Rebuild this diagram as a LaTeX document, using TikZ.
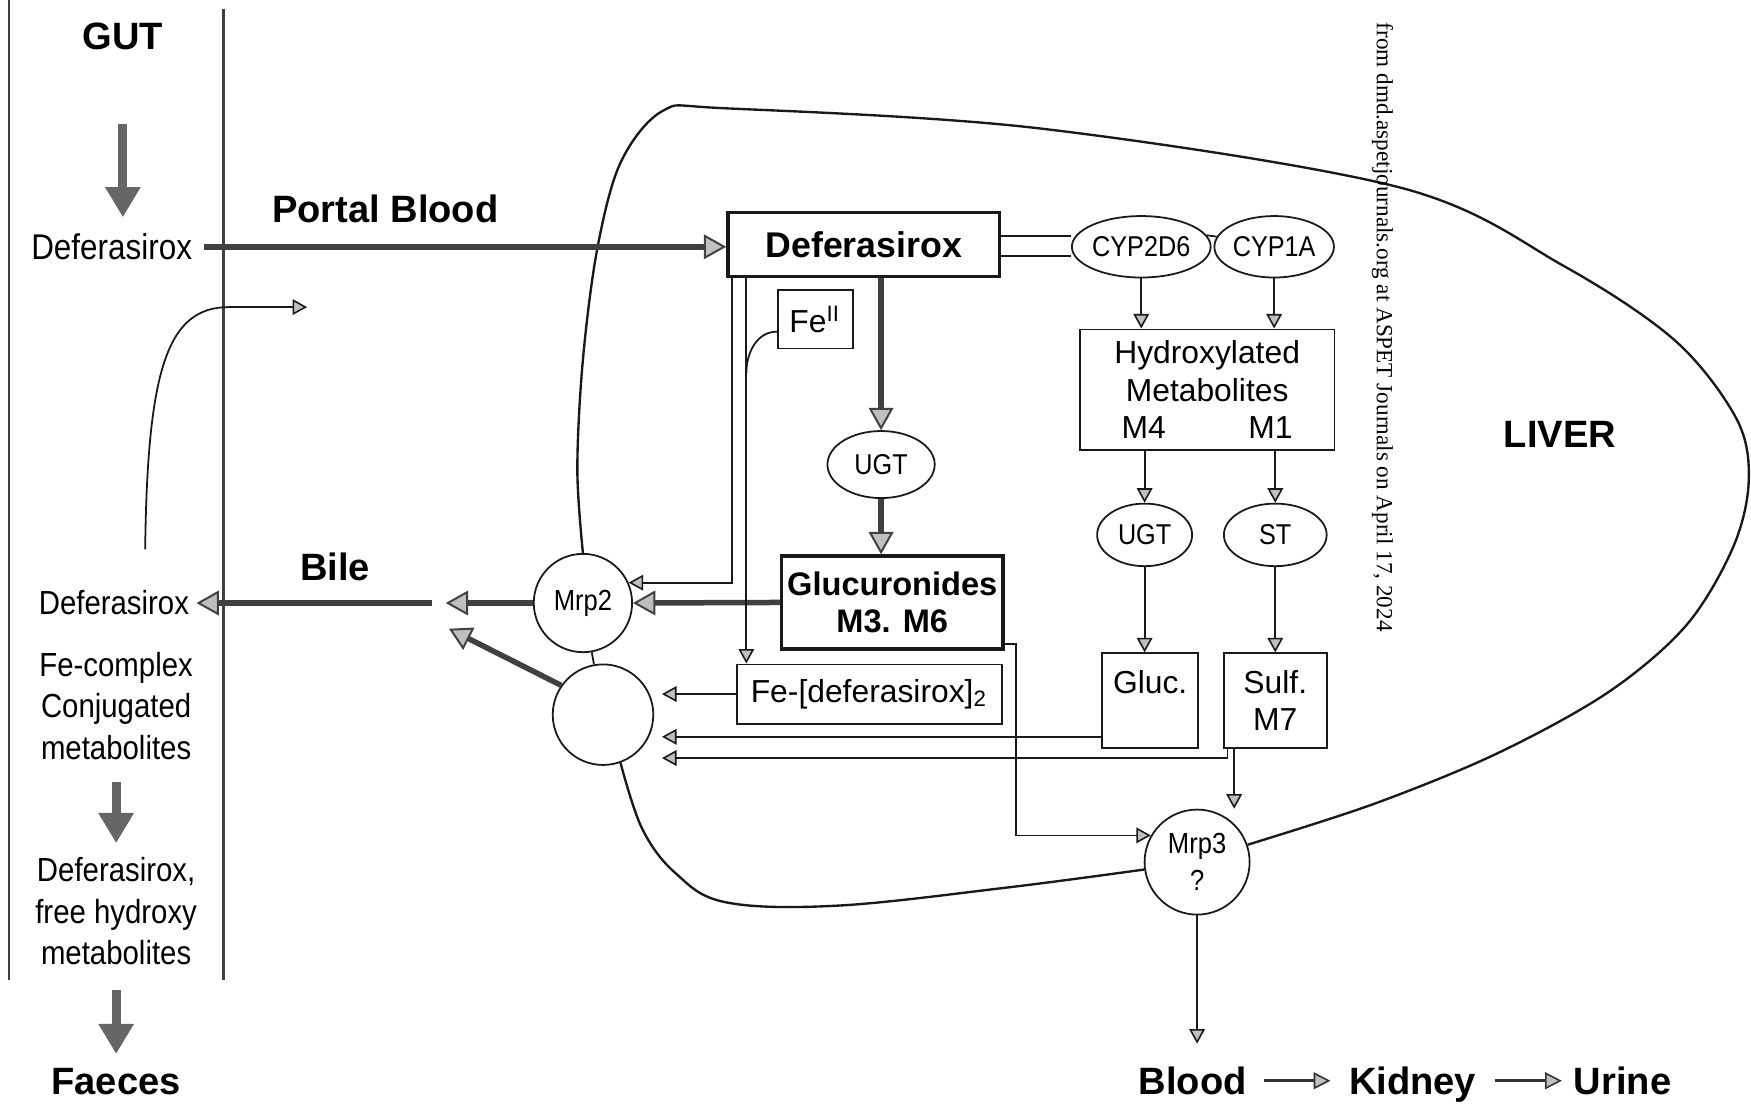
\documentclass[tikz,border=0pt]{standalone}
\usepackage{fontspec}
\setmainfont{Liberation Sans}
\newfontfamily\narrowfont[FakeStretch=0.88]{Liberation Sans}
\newfontfamily\wmfont{Liberation Serif}
\usetikzlibrary{arrows.meta,shapes.geometric}

\tikzset{
	lbl/.style={font=\narrowfont\fontsize{8.5}{10.6}\selectfont, align=center, inner sep=0pt},
	boldlbl/.style={font=\bfseries\fontsize{9.7}{12}\selectfont, inner sep=0pt, anchor=base},
	box/.style={draw=black!90, line width=0.45pt, inner sep=0pt, align=center, font=\fontsize{8.1}{9.5}\selectfont},
	heavybox/.style={box, line width=0.9pt, font=\bfseries\fontsize{8.3}{9.6}\selectfont},
	enz/.style={draw=black!90, ellipse, line width=0.45pt, inner sep=0pt, font=\narrowfont\fontsize{7.3}{8}\selectfont},
	pump/.style={draw=black!90, circle, line width=0.45pt, inner sep=0pt, align=center, font=\narrowfont\fontsize{7.4}{9.5}\selectfont},
	wire/.style={draw=black!90, line width=0.45pt},
	flow/.style={wire, -{Triangle[length=0.13cm, width=0.14cm, line width=0.4pt, fill=gray!50]}},
	medflow/.style={draw=black!80, line width=0.75pt, -{Triangle[length=0.15cm, width=0.15cm, line width=0.4pt, fill=gray!50]}},
	bigflow/.style={draw=black!75, line width=1.4pt, -{Triangle[length=0.2cm, width=0.22cm, line width=0.5pt, fill=gray!50]}},
	blockarrow/.style={draw=black!60, line width=2.3pt, -{Triangle[length=0.27cm, width=0.3cm]}}
}

\begin{document}
\begin{tikzpicture}[x=0.01cm, y=-0.01cm]
	\useasboundingbox (0,0) rectangle (1568,988);
	% gut wall
	\draw[black!75, line width=0.7pt] (8,0) -- (8,878);
	\draw[black!75, line width=0.7pt] (200,8) -- (200,878);

	% gut side
	\node[boldlbl] (gut) at (110,44) {GUT};
	\node[lbl, font=\narrowfont\fontsize{9.1}{11}\selectfont] (defgut) at (100,221) {Deferasirox};
	\node[lbl] (defbile) at (102,540) {Deferasirox};
	\node[lbl] (conj) at (104,632) {Fe-complex\\Conjugated\\metabolites};
	\node[lbl] (freehx) at (104,816) {Deferasirox,\\free hydroxy\\metabolites};
	\node[boldlbl] (faeces) at (104,980) {Faeces};
	\node[boldlbl] (portal) at (345,199) {Portal Blood};
	\node[boldlbl] (bile) at (300,520) {Bile};
	\node[boldlbl] (liver) at (1397,401) {LIVER};

	\draw[blockarrow, shorten <=0.66cm, shorten >=0.14cm] (gut.south) -- (gut.south |- defgut.north);
	\draw[blockarrow, shorten <=0.19cm, shorten >=0.12cm] (conj.south) -- (freehx.north);
	\draw[blockarrow, shorten <=0.22cm, shorten >=0.12cm] (freehx.south) -- (freehx.south |- faeces.north);

	% liver nodes
	\node[heavybox, font=\bfseries\fontsize{9.1}{11}\selectfont, minimum width=2.43cm, minimum height=0.57cm] (defbox) at (773.5,219) {Deferasirox};
	\node[box, minimum width=0.67cm, minimum height=0.52cm] (fe2) at (730,286) {Fe\textsuperscript{II}};
	\node[enz, minimum width=0.96cm, minimum height=0.6cm] (ugt1) at (789,416) {UGT};
	\node[heavybox, minimum width=1.98cm, minimum height=0.83cm] (glcr) at (799,539.5) {Glucuronides\\M3. M6};
	\node[box, minimum width=2.37cm, minimum height=0.53cm] (fecx) at (778.5,621.5) {Fe-[deferasirox]\textsubscript{2}};

	\node[enz, minimum width=1.11cm, minimum height=0.55cm] (cyp2d6) at (1022,221) {CYP2D6};
	\node[enz, minimum width=1.07cm, minimum height=0.55cm] (cyp1a) at (1141,221) {CYP1A};
	\node[box, minimum width=2.28cm, minimum height=1.08cm] (hydrox) at (1081,349) {Hydroxylated\\Metabolites\\M4\hspace{0.74cm}M1};
	\node[enz, minimum width=0.85cm, minimum height=0.56cm] (ugt2) at (1025,479) {UGT};
	\node[enz, minimum width=0.92cm, minimum height=0.56cm] (st) at (1142,479) {ST};
	\node[box, minimum width=0.86cm, minimum height=0.85cm] (glucb) at (1030,627.5) {Gluc.\\\mbox{}};
	\node[box, minimum width=0.92cm, minimum height=0.85cm] (sulf) at (1142,627.5) {Sulf.\\M7};

	\node[pump, minimum size=0.88cm] (mrp2) at (522,540) {Mrp2};
	\node[pump, minimum size=0.9cm] (mrpx) at (540,640) {};
	\node[pump, minimum size=0.94cm] (mrp3) at (1072,772) {Mrp3\\?};

	\node[boldlbl] (blood) at (1068,980) {Blood};
	\node[boldlbl] (kidney) at (1265,980) {Kidney};
	\node[boldlbl] (urine) at (1453,980) {Urine};

	% liver outline
	\draw[wire, line width=0.6pt] plot[smooth, tension=0.55] coordinates {(mrp2.north) (517,420) (522,322) (535,222) (556,145) (594,99) (650,97) (931,115) (1254,168) (1400,238) (1500,305) (1555,375) (1566,430) (1552,490) (1510,560) (1440,620) (1340,675) (1230,720) (mrp3.19)};
	\draw[wire, line width=0.6pt] plot[smooth, tension=0.6] coordinates {(mrp3.188) (900,795) (750,811) (650,808) (605,782) (575,742) (mrpx.-70)};
	\draw[wire] (mrp2) -- (mrpx);

	% portal blood in, bile out
	\draw[bigflow, shorten <=0.1cm] (defgut.east) -- (defgut.east -| defbox.west);
	\draw[bigflow] (mrp2.west) -- ++(-78,0) coordinate (bilemid);
	\draw[bigflow, shorten <=0.12cm, shorten >=0.06cm] (bilemid) -- (bilemid -| defbile.east);
	\coordinate (biletip) at (402,563);
	\draw[bigflow] (mrpx.145) -- (biletip);
	\coordinate (recA) at (130,492);
	\coordinate (recB) at (275,275);
	\draw[flow] (recA) .. controls (132,330) and (150,275) .. (205,275) -- (recB);

	% metabolism
	\draw[bigflow] (defbox.south -| ugt1.north) -- (ugt1.north);
	\draw[bigflow] (ugt1.south) -- (ugt1.south |- glcr.north);
	\draw[bigflow] (glcr.west) -- (mrp2.east);
	\coordinate (lnA) at ([xshift=0.05cm]defbox.south west);
	\coordinate (lnB) at ([xshift=0.18cm]defbox.south west);
	\draw[flow] (lnA) |- (mrp2.24);
	\draw[flow] (lnB) -- (lnB |- fecx.north);
	\draw[wire] ([yshift=-0.11cm]fe2.west) to[out=180, in=90] ([yshift=-0.85cm]lnB);
	\draw[flow, shorten >=0.07cm] (fecx.west) -- (fecx.west -| mrpx.east);

	\draw[wire] ([yshift=0.08cm]defbox.east) -- ([yshift=0.08cm]defbox.east -| cyp2d6.west);
	\draw[wire] ([yshift=-0.1cm]defbox.east) -- ([yshift=-0.1cm]defbox.east -| cyp2d6.west);
	\draw[wire] (cyp2d6.10) -- (cyp1a.170);
	\draw[flow] (cyp2d6.south) -- (cyp2d6.south |- hydrox.north);
	\draw[flow] (cyp1a.south) -- (cyp1a.south |- hydrox.north);
	\draw[flow] (hydrox.south -| ugt2.north) -- (ugt2.north);
	\draw[flow] (hydrox.south -| st.north) -- (st.north);
	\draw[flow] (ugt2.south) -- (ugt2.south |- glucb.north);
	\draw[flow] (st.south) -- (st.south |- sulf.north);

	\coordinate (gl) at ([yshift=0.11cm]glucb.south west);
	\draw[flow, shorten >=0.07cm] (gl) -- (gl -| mrpx.east);
	\coordinate (sl) at ([xshift=0.04cm]sulf.south west);
	\draw[flow, shorten >=0.07cm] (sl) -- ++(0,8) coordinate (sk) -- (sk -| mrpx.east);
	\coordinate (sm) at ([xshift=0.1cm]sulf.south west);
	\draw[flow] (sm) -- (sm |- mrp3.north);
	\draw[flow] ([yshift=0.06cm]glcr.south east) -- ++(10,0) |- (mrp3.150);

	% out to blood
	\draw[flow, shorten >=0.2cm] (mrp3.south) -- (mrp3.south |- blood.north);
	\draw[medflow, shorten <=0.15cm, shorten >=0.16cm] (blood.east) -- (blood.east -| kidney.west);
	\draw[medflow, shorten <=0.16cm, shorten >=0.1cm] (kidney.east |- blood.east) -- (blood.east -| urine.west);

	\node[font=\wmfont\fontsize{5.9}{7}\selectfont, rotate=-90, inner sep=0pt] (wm) at (1238,293) {from dmd.aspetjournals.org at ASPET Journals on April 17, 2024};
\end{tikzpicture}
\end{document}
